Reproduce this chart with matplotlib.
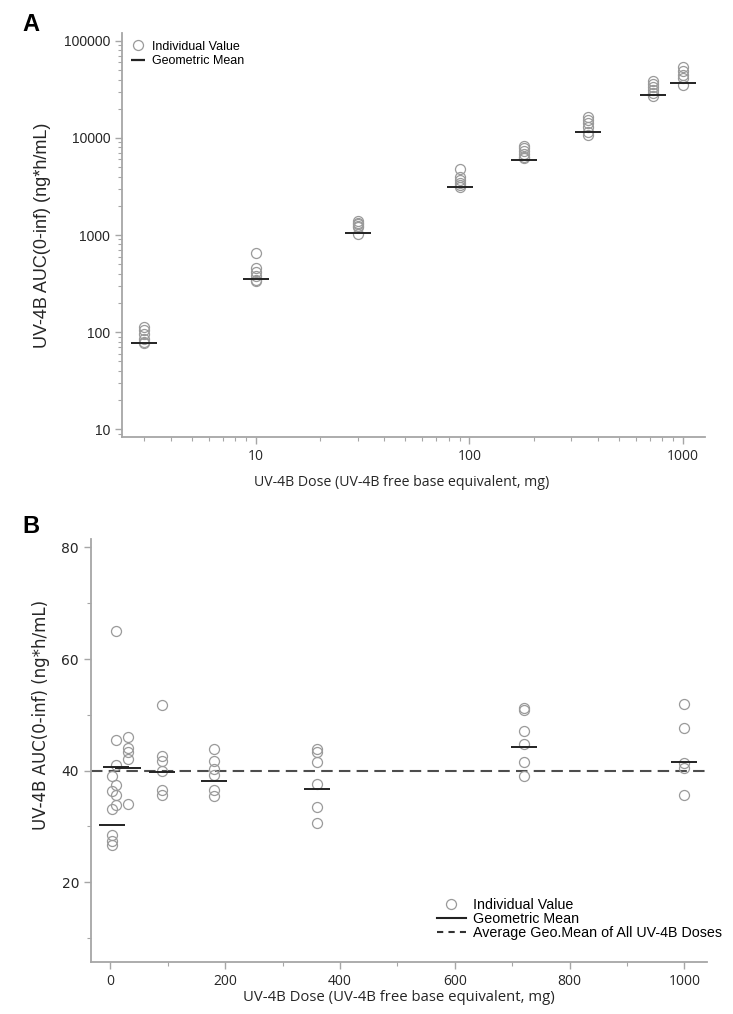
import matplotlib
matplotlib.use('Agg')
import matplotlib.pyplot as plt
from matplotlib.lines import Line2D
from matplotlib.ticker import LogLocator, FixedLocator, NullFormatter

# panel A: AUC by dose (log-log)
doses_a = [3, 10, 30, 90, 180, 360, 720, 1000]
auc_a = [
    [113, 104, 96, 84, 80, 77],
    [647, 454, 412, 377, 344, 336],
    [1393, 1330, 1297, 1250, 1219, 1031],
    [4786, 3992, 3690, 3412, 3250, 3150],
    [8279, 7834, 7345, 6840, 6417, 6250],
    [16330, 15340, 14190, 12890, 11620, 10740],
    [38730, 36060, 33830, 31260, 29330, 27100],
    [54330, 49420, 44610, 41180, 35190],
]
geo_mean_a = [78, 351, 1057, 3104, 5973, 11620, 27540, 36640]

# panel B: dose-normalised AUC
doses_b = [3, 10, 30, 90, 180, 360, 720, 1000]
auc_b = [
    [39.0, 36.4, 33.1, 28.4, 27.4, 26.6],
    [65.0, 45.4, 41.0, 37.5, 35.6, 33.9],
    [46.0, 44.1, 43.3, 42.1, 34.1],
    [51.7, 42.7, 41.8, 40.0, 36.6, 35.6],
    [43.8, 41.8, 40.3, 39.2, 36.5, 35.4],
    [43.9, 43.3, 41.6, 37.6, 33.4, 30.6],
    [51.3, 50.8, 47.1, 44.7, 41.5, 39.1],
    [52.0, 47.7, 41.4, 40.5, 35.6],
]
geo_mean_b = [30.2, 40.7, 40.5, 39.7, 38.1, 36.7, 44.2, 41.5]
avg_geo_mean = 40.0

SPINE = '#a6a6a6'
CIRC = '#9a9a9a'
MEAN = '#222222'
TXT = '#262626'

fig = plt.figure(figsize=(7.33, 10.14), dpi=100)
ax_a = fig.add_axes([0.1664, 0.569, 0.7954, 0.3986])
ax_b = fig.add_axes([0.124, 0.0513, 0.841, 0.4171])


def style_axes(ax):
    for s in ['top', 'right']:
        ax.spines[s].set_visible(False)
    for s in ['left', 'bottom']:
        ax.spines[s].set_color(SPINE)
        ax.spines[s].set_linewidth(1.3)
    ax.tick_params(which='major', length=5, width=1, color=SPINE, labelcolor=TXT)
    ax.tick_params(which='minor', length=3, width=0.8, color=SPINE)


def draw_points(ax, doses, values, means):
    for d, vals in zip(doses, values):
        ax.plot([d] * len(vals), vals, 'o', ms=7.2, mfc='none', mec=CIRC, mew=0.9, zorder=2)
    ax.plot(doses, means, '_', ms=19, mec=MEAN, mew=1.4, zorder=3)


# --- panel A ---
style_axes(ax_a)
draw_points(ax_a, doses_a, auc_a, geo_mean_a)
ax_a.set_xscale('log')
ax_a.set_yscale('log')
ax_a.set_xlim(2.36, 1268)
ax_a.set_ylim(8.3, 121000)
ax_a.xaxis.set_major_locator(FixedLocator([10, 100, 1000]))
ax_a.xaxis.set_minor_locator(LogLocator(base=10, subs=range(2, 10)))
ax_a.xaxis.set_minor_formatter(NullFormatter())
ax_a.set_xticklabels(['10', '100', '1000'], family='Open Sans', fontsize=10)
ax_a.yaxis.set_major_locator(FixedLocator([10, 100, 1000, 10000, 100000]))
ax_a.yaxis.set_minor_locator(LogLocator(base=10, subs=range(2, 10)))
ax_a.yaxis.set_minor_formatter(NullFormatter())
ax_a.set_yticklabels(['10', '100', '1000', '10000', '100000'], family='Liberation Sans', fontsize=10)
ax_a.set_xlabel('UV-4B Dose (UV-4B free base equivalent, mg)', family='Open Sans',
                fontsize=10.2, color=TXT, labelpad=8)
ax_a.xaxis.set_label_coords(0.48, -0.095)
ax_a.set_ylabel('UV-4B AUC(0-inf) (ng*h/mL)', family='Liberation Sans', fontsize=13,
                color=TXT, labelpad=9)

handles_a = [
    Line2D([], [], ls='none', marker='o', ms=7.2, mfc='none', mec=CIRC, mew=0.9),
    Line2D([], [], ls='none', marker='_', ms=10, mec=MEAN, mew=1.6),
]
ax_a.legend(handles_a, ['Individual Value', 'Geometric Mean'], loc='upper left',
            bbox_to_anchor=(0.0, 1.005), frameon=False, handlelength=1.0, handletextpad=0.6,
            labelspacing=0.2, borderpad=0.3,
            prop={'family': 'Liberation Sans', 'size': 9})

# --- panel B ---
style_axes(ax_b)
draw_points(ax_b, doses_b, auc_b, geo_mean_b)
ax_b.axhline(avg_geo_mean, color='#4d4d4d', lw=1.5, dashes=(5.5, 3.0), zorder=1)
ax_b.set_xlim(-34, 1040)
ax_b.set_ylim(5.7, 81.5)
ax_b.set_xticks([0, 200, 400, 600, 800, 1000])
ax_b.set_xticks([100, 300, 500, 700, 900], minor=True)
ax_b.set_xticklabels(['0', '200', '400', '600', '800', '1000'], family='Open Sans', fontsize=10)
ax_b.set_yticks([20, 40, 60, 80])
ax_b.set_yticks([10, 30, 50, 70], minor=True)
ax_b.set_yticklabels(['20', '40', '60', '80'], family='DejaVu Sans', fontsize=10)
ax_b.set_xlabel('UV-4B Dose (UV-4B free base equivalent, mg)', family='Open Sans',
                fontsize=10.7, color=TXT, labelpad=1)
ax_b.set_ylabel('UV-4B AUC(0-inf) (ng*h/mL)', family='DejaVu Sans', fontsize=12,
                color=TXT, labelpad=10)
ax_b.yaxis.set_label_coords(-0.066, 0.585)

handles_b = [
    Line2D([], [], ls='none', marker='o', ms=7.2, mfc='none', mec=CIRC, mew=0.9),
    Line2D([], [], color=MEAN, lw=1.5),
    Line2D([], [], color='#333333', lw=1.5, dashes=(3, 2.5)),
]
fig.legend(handles_b, ['Individual Value', 'Geometric Mean',
                       'Average Geo.Mean of All UV-4B Doses'],
           loc='upper left', bbox_to_anchor=(430 / 733, 1 - 891 / 1014), frameon=False,
           handlelength=2.0, handletextpad=0.5, labelspacing=0.0, borderpad=0.0,
           prop={'family': 'Liberation Sans', 'size': 10.3})

fig.text(0.030, 0.969, 'A', fontsize=17, fontweight='bold', family='Liberation Sans')
fig.text(0.030, 0.474, 'B', fontsize=17, fontweight='bold', family='Liberation Sans')

fig.savefig('out.png', dpi=100)
